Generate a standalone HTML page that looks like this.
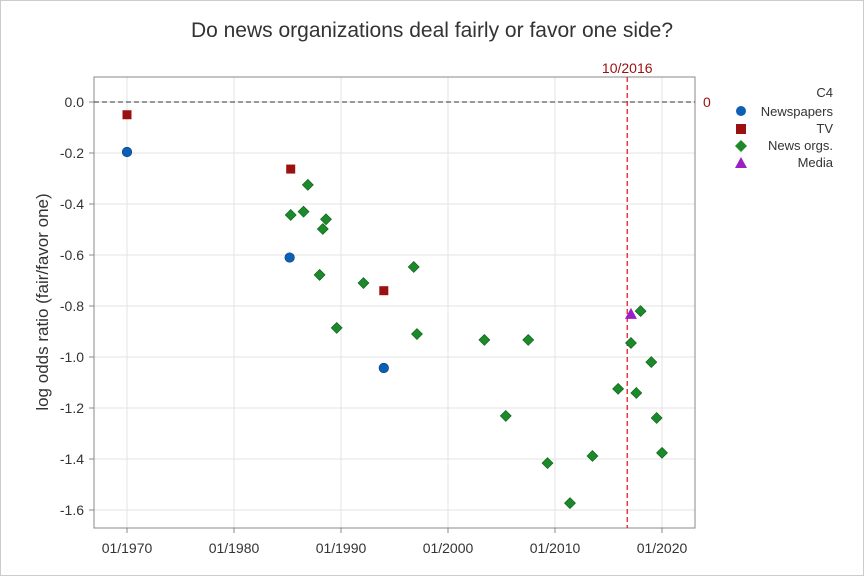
<!DOCTYPE html>
<html><head><meta charset="utf-8"><style>
body{margin:0;background:#fff;font-family:"Liberation Sans",sans-serif}
svg text{font-family:"Liberation Sans",sans-serif}
</style></head><body>
<svg id="c" width="864" height="576" viewBox="0 0 864 576">
<rect x="0.5" y="0.5" width="863" height="575" fill="#fff" stroke="#ccc"/>
<text x="432" y="37" text-anchor="middle" font-size="21" fill="#333">Do news organizations deal fairly or favor one side?</text>
<g id="grid"></g>
<rect x="94" y="77" width="601" height="451" fill="none" stroke="#888"/>
<g id="ax"></g>
<g id="marks"></g>
<text transform="translate(48,302) rotate(-90)" text-anchor="middle" font-size="17" fill="#333">log odds ratio (fair/favor one)</text>
<g font-size="13" fill="#333">
<text x="833" y="97" text-anchor="end">C4</text>
<circle cx="741" cy="111" r="5" fill="#0b5fb4"/>
<text x="833" y="116" text-anchor="end">Newspapers</text>
<rect x="736" y="124" width="10" height="10" fill="#9b1010"/>
<text x="833" y="133" text-anchor="end">TV</text>
<polygon points="741,140 747,146 741,152 735,146" fill="#1a8a2a"/>
<text x="833" y="150" text-anchor="end">News orgs.</text>
<polygon points="741,157 747,168 735,168" fill="#9b1fc4"/>
<text x="833" y="167" text-anchor="end">Media</text>
</g>
</svg>
<script>
const xTicks=[1970,1980,1990,2000,2010,2020];
const yTicks=[0,-0.2,-0.4,-0.6,-0.8,-1.0,-1.2,-1.4,-1.6];
const newsYears=[1970,1985.2,1994.0];
const newsVals=[-0.196,-0.61,-1.043];
const tvYears=[1970,1985.3,1994.0];
const tvVals=[-0.05,-0.263,-0.74];
const orgYears=[1985.3,1986.5,1986.9,1988.6,1988.3,1988.0,1989.6,1992.1,1996.8,1997.1,2003.4,2007.5,2005.4,2009.3,2011.4,2013.5,2015.9,2017.1,2017.6,2018.0,2019.0,2019.5,2020.0];
const orgVals=[-0.443,-0.43,-0.325,-0.46,-0.498,-0.678,-0.886,-0.71,-0.647,-0.91,-0.933,-0.933,-1.231,-1.416,-1.573,-1.388,-1.125,-0.945,-1.141,-0.82,-1.02,-1.239,-1.376];
const mediaYears=[2017.1];
const mediaVals=[-0.831];
const refYear=2016.75;
const NS="http://www.w3.org/2000/svg";
const X=y=>127+(y-1970)*10.7;
const Y=v=>102-v*255;
function mk(tag,attrs,parent){const e=document.createElementNS(NS,tag);for(const k in attrs)e.setAttribute(k,attrs[k]);document.getElementById(parent).appendChild(e);return e;}
xTicks.forEach(t=>{
 const g=mk('line',{x1:X(t),x2:X(t),y1:77,y2:528,stroke:'#e3e3e3'},'grid');
 
 
 const tk=mk('line',{x1:X(t),x2:X(t),y1:528,y2:533,stroke:'#888'},'ax');
 
 
 const l=mk('text',{x:X(t),y:553,'text-anchor':'middle','font-size':14,fill:'#333'},'ax');
 l.textContent='01/'+t;
 
 
});
yTicks.forEach(t=>{
 const g=mk('line',{x1:94,x2:695,y1:Y(t),y2:Y(t),stroke:'#e3e3e3'},'grid');
 
 
 const tk=mk('line',{x1:89,x2:94,y1:Y(t),y2:Y(t),stroke:'#888'},'ax');
 
 
 const l=mk('text',{x:84,y:Y(t)+5,'text-anchor':'end','font-size':14,fill:'#333'},'ax');
 l.textContent=t.toFixed(1);
 
 
});
const zl=mk('line',{x1:94,x2:695,y1:Y(0),y2:Y(0),stroke:'#333','stroke-dasharray':'5,3'},'ax');


const zt=mk('text',{x:703,y:Y(0)+5,'font-size':14,fill:'#9b1010'},'ax');zt.textContent='0';


const rl=mk('line',{x1:X(refYear),x2:X(refYear),y1:77,y2:528,stroke:'#e02020','stroke-dasharray':'5,3','stroke-width':1.3},'ax');


const rt=mk('text',{x:X(refYear),y:73,'text-anchor':'middle','font-size':14,fill:'#9b1010'},'ax');rt.textContent='10/2016';


orgYears.forEach((yr,i)=>{const x=X(yr),y=Y(orgVals[i]);
 const p=mk('polygon',{points:`${x},${y-5.5} ${x+5.5},${y} ${x},${y+5.5} ${x-5.5},${y}`,fill:'#1a8a2a',stroke:'#0d5a18','stroke-width':0.6},'marks');
 
 });
newsYears.forEach((yr,i)=>{
 const p=mk('circle',{cx:X(yr),cy:Y(newsVals[i]),r:4.8,fill:'#0b5fb4',stroke:'#083f7a','stroke-width':0.6},'marks');
 
 });
tvYears.forEach((yr,i)=>{
 const p=mk('rect',{x:X(yr)-4.5,y:Y(tvVals[i])-4.5,width:9,height:9,fill:'#9b1010'},'marks');
 
 });
mediaYears.forEach((yr,i)=>{const x=X(yr),y=Y(mediaVals[i]);
 const p=mk('polygon',{points:`${x},${y-6} ${x+6},${y+5} ${x-6},${y+5}`,fill:'#9b1fc4'},'marks');
 
 });
</script>
</body></html>
